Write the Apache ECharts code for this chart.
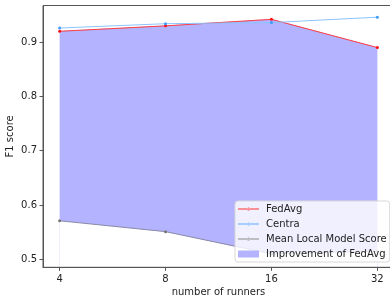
<!DOCTYPE html>
<html><head><meta charset="utf-8">
<script src="https://cdn.jsdelivr.net/npm/echarts@6/dist/echarts.min.js"></script>
<style>html,body{margin:0;padding:0;background:#fff}#c{width:390px;height:300px}</style>
</head><body><div id="c"></div>
<script>
const runners = [4, 8, 16, 32];
const fedAvg = [0.920, 0.930, 0.942, 0.890];
const centra = [0.926, 0.934, 0.936, 0.946];
const meanLocal = [0.571, 0.551, 0.510, 0.515];
const yTicks = [0.5, 0.6, 0.7, 0.8, 0.9];

const lx = runners.map(r => Math.log2(r));
const pts = arr => arr.map((v, i) => [lx[i], v]);
const font = 'DejaVu Sans';
const axCol = '#555';
const lineIcon = 'path://M0,1L21,1L21,2L0,2Z M9,1.5a1.5,1.5 0 1,0 3,0a1.5,1.5 0 1,0 -3,0Z';

const chart = echarts.init(document.getElementById('c'), null, {renderer: 'canvas'});
chart.setOption({
  animation: false,
  textStyle: {fontFamily: font},
  grid: {left: 43, right: -4, top: 5.5, bottom: 32.7, show: true, borderColor: axCol, borderWidth: 1, containLabel: false, outerBoundsMode: 'none'},
  xAxis: {
    type: 'value', min: 1.843, max: 5.157, z: 5,
    name: 'number of runners', nameLocation: 'middle', nameGap: 20, nameMoveOverlap: false,
    nameTextStyle: {fontFamily: font, fontSize: 10, color: '#222'},
    axisLine: {show: true, lineStyle: {color: axCol, width: 1}},
    axisTick: {show: true, length: 3.5, customValues: lx, lineStyle: {color: axCol}},
    axisLabel: {customValues: lx, formatter: v => String(Math.round(Math.pow(2, v))), fontFamily: font, fontSize: 10, color: '#222', margin: 7},
    splitLine: {show: false}
  },
  yAxis: {
    type: 'value', min: 0.4853, max: 0.9675, z: 5,
    name: 'F1 score', nameLocation: 'middle', nameGap: 28, nameRotate: 90, nameMoveOverlap: false,
    nameTextStyle: {fontFamily: font, fontSize: 10, color: '#222'},
    axisLine: {show: true, lineStyle: {color: axCol, width: 1}},
    axisTick: {show: true, length: 3.5, customValues: yTicks, lineStyle: {color: axCol}},
    axisLabel: {customValues: yTicks, formatter: v => v.toFixed(1), fontFamily: font, fontSize: 10, color: '#222', margin: 6},
    splitLine: {show: false}
  },
  legend: {
    orient: 'vertical', left: 235, top: 201,
    padding: [3, 3, 3, 3], itemGap: 5, itemWidth: 21, itemHeight: 7, symbolKeepAspect: true,
    backgroundColor: 'rgba(255,255,255,0.8)', borderColor: '#d8d8d8', borderWidth: 1, borderRadius: 3,
    textStyle: {fontFamily: font, fontSize: 10, color: '#222', padding: [0, 0, 0, 2]},
    data: [
      {name: 'FedAvg', icon: lineIcon, itemStyle: {color: '#ff3030'}},
      {name: 'Centra', icon: lineIcon, itemStyle: {color: '#5aaaff'}},
      {name: 'Mean Local Model Score', icon: lineIcon, itemStyle: {color: '#888'}},
      {name: 'Improvement of FedAvg', icon: 'rect', itemStyle: {color: '#b3b3ff'}}
    ]
  },
  series: [
    {name: 'Improvement of FedAvg', type: 'line', data: pts(fedAvg), symbol: 'none',
      lineStyle: {color: '#9a9aff', width: 0.8, opacity: 0.6}, areaStyle: {color: '#b3b3ff', opacity: 1, origin: 'start'}, itemStyle: {color: '#b3b3ff'}, z: -2},
    {name: 'mask', type: 'line', data: pts(meanLocal), symbol: 'none', silent: true,
      lineStyle: {opacity: 0}, areaStyle: {color: '#ffffff', opacity: 1, origin: 'start'}, z: -1},
    {name: 'FedAvg', type: 'line', data: pts(fedAvg), symbol: 'circle', symbolSize: 3,
      lineStyle: {color: '#ff4040', width: 1}, itemStyle: {color: '#ff1010'}, z: 3},
    {name: 'Centra', type: 'line', data: pts(centra), symbol: 'circle', symbolSize: 3,
      lineStyle: {color: '#8cc4ff', width: 1}, itemStyle: {color: '#3d9cff'}, z: 3},
    {name: 'Mean Local Model Score', type: 'line', data: pts(meanLocal), symbol: 'circle', symbolSize: 3,
      lineStyle: {color: '#8a8aa8', width: 1}, itemStyle: {color: '#777'}, z: 3}
  ]
});
</script></body></html>
